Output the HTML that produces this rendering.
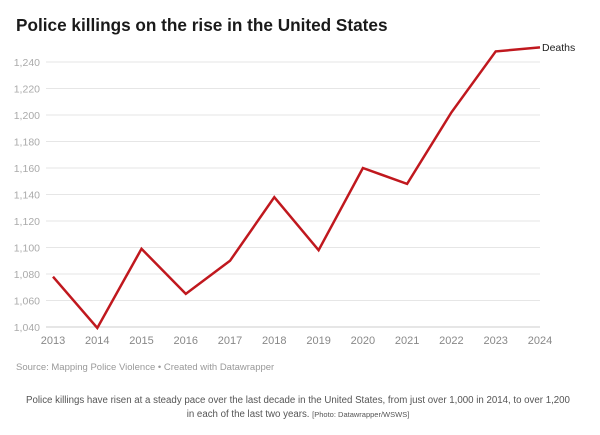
<!DOCTYPE html>
<html><head><meta charset="utf-8"><style>
body{margin:0;background:#fff;width:600px;height:430px;overflow:hidden;font-family:"Liberation Sans",sans-serif}
</style></head><body>
<svg width="600" height="430" xmlns="http://www.w3.org/2000/svg" font-family="Liberation Sans, sans-serif">
<text x="16" y="31" font-size="17.2" font-weight="bold" fill="#1a1a1a">Police killings on the rise in the United States</text>
<g stroke="#e6e6e6" stroke-width="1">
<line x1="46" x2="540" y1="62" y2="62"/><line x1="46" x2="540" y1="88.5" y2="88.5"/><line x1="46" x2="540" y1="115" y2="115"/>
<line x1="46" x2="540" y1="141.5" y2="141.5"/><line x1="46" x2="540" y1="168" y2="168"/><line x1="46" x2="540" y1="194.5" y2="194.5"/>
<line x1="46" x2="540" y1="221" y2="221"/><line x1="46" x2="540" y1="247.5" y2="247.5"/><line x1="46" x2="540" y1="274" y2="274"/>
<line x1="46" x2="540" y1="300.5" y2="300.5"/></g>
<line x1="46" x2="540" y1="327" y2="327" stroke="#ccc"/>
<g font-size="10.5" fill="#aaa" text-anchor="end">
<text x="40" y="66">1,240</text><text x="40" y="92.5">1,220</text><text x="40" y="119">1,200</text><text x="40" y="145.5">1,180</text>
<text x="40" y="172">1,160</text><text x="40" y="198.5">1,140</text><text x="40" y="225">1,120</text><text x="40" y="251.5">1,100</text>
<text x="40" y="278">1,080</text><text x="40" y="304.5">1,060</text><text x="40" y="331">1,040</text></g>
<g font-size="11" fill="#888" text-anchor="middle">
<text x="53" y="344">2013</text><text x="97.3" y="344">2014</text><text x="141.5" y="344">2015</text><text x="185.8" y="344">2016</text>
<text x="230" y="344">2017</text><text x="274.3" y="344">2018</text><text x="318.6" y="344">2019</text><text x="362.9" y="344">2020</text>
<text x="407.1" y="344">2021</text><text x="451.4" y="344">2022</text><text x="495.7" y="344">2023</text><text x="540" y="344">2024</text></g>
<polyline fill="none" stroke="#c0181e" stroke-width="2.5" stroke-linejoin="miter" points="53,276.7 97.3,328 141.5,248.8 185.8,293.9 230,260.8 274.3,197.2 318.6,250.2 362.9,168 407.1,183.9 451.4,112.4 495.7,51.4 540,47.4"/>
<text x="542" y="51" font-size="10.5" fill="#222">Deaths</text>
<text x="16" y="370" font-size="9.5" fill="#999">Source: Mapping Police Violence • Created with Datawrapper</text>
<g font-size="9.7" fill="#555" text-anchor="middle">
<text x="298" y="403">Police killings have risen at a steady pace over the last decade in the United States, from just over 1,000 in 2014, to over 1,200</text>
<text x="298" y="417">in each of the last two years. <tspan font-size="7.5">[Photo: Datawrapper/WSWS]</tspan></text></g>
</svg>
</body></html>
